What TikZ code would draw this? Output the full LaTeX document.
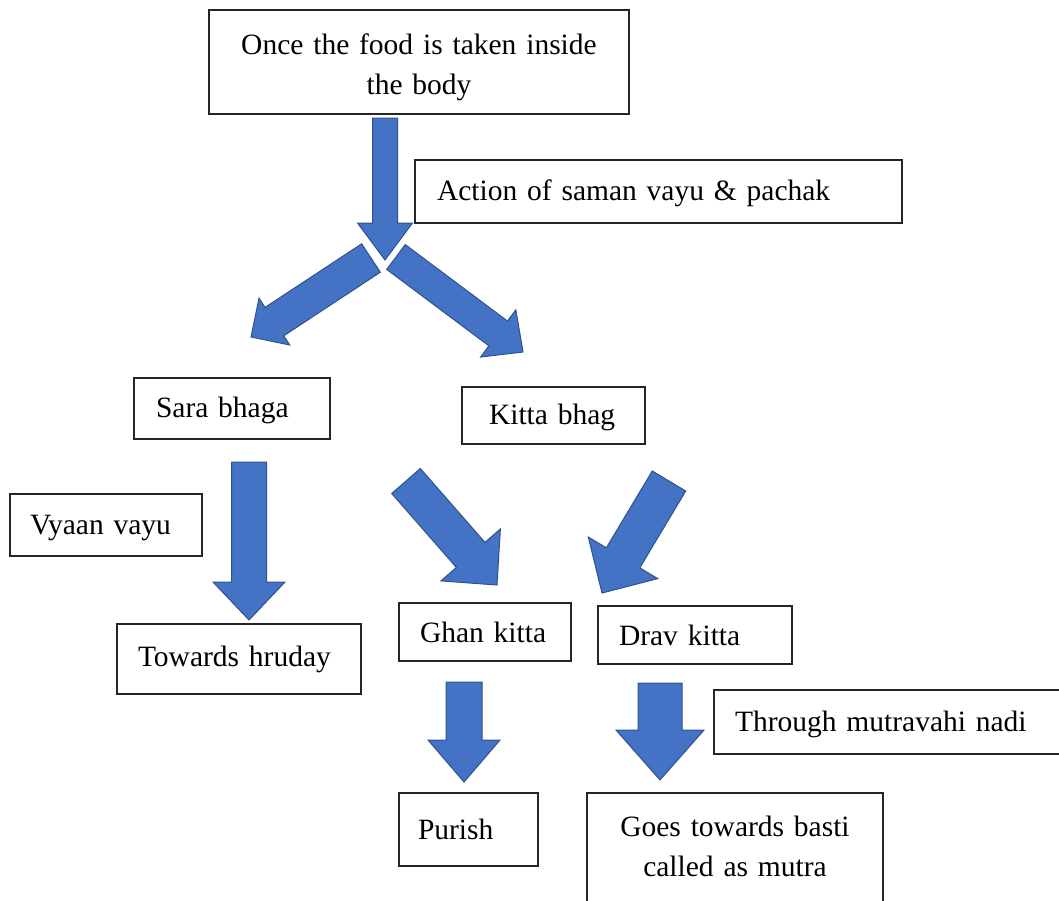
\documentclass[tikz,border=0pt]{standalone}
\usepackage{fontspec}
\setmainfont{Liberation Serif}
\usetikzlibrary{calc}
\definecolor{arrowfill}{HTML}{4472C4}
\definecolor{arrowline}{HTML}{2F528F}
\tikzset{
  box/.style={draw=black!85, line width=1.5pt, rectangle, anchor=north west,
    outer sep=0pt, inner ysep=0pt, font=\fontsize{29.5}{40}\selectfont},
  blockarr/.style={fill=arrowfill, draw=arrowline, line width=1pt, line join=miter}
}
%% block arrow: tail, tip, shaft width, head width, head length
\newcommand{\blockarrow}[5]{%
  \path let \p1=($(#2)-(#1)$) in
    \pgfextra{\pgfmathsetmacro\arrang{atan2(\y1,\x1)}%
      \pgfmathsetmacro\arrlen{veclen(\x1,\y1)}%
      \global\let\arrang\arrang \global\let\arrlen\arrlen};
  \filldraw[blockarr, shift={(#1)}, rotate=\arrang]
    (0pt,-#3/2) -- (\arrlen pt-#5,-#3/2) -- (\arrlen pt-#5,-#4/2)
    -- (\arrlen pt,0pt) -- (\arrlen pt-#5,#4/2) -- (\arrlen pt-#5,#3/2)
    -- (0pt,#3/2) -- cycle;
}

\begin{document}
\begin{tikzpicture}[x=1pt, y=-1pt]
  \useasboundingbox (0,0) rectangle (1059,900);

  %% boxes
  \node[box, text width=400pt, inner xsep=10pt, minimum height=104pt, align=center]
    (food) at (209,10) {\rule{0pt}{32pt}Once the food is taken inside\\the body};
  \node[box, text width=443pt, inner xsep=22pt, minimum height=63pt, align=left]
    (saman) at (415,160) {\rule{0pt}{25pt}Action of saman vayu \& pachak};

  \node[box, text width=152pt, inner xsep=22pt, minimum height=61pt, align=left]
    (sara) at (134,378) {\rule{0pt}{25pt}Sara bhaga};
  \node[box, text width=129pt, inner xsep=27pt, minimum height=57pt, align=left]
    (kitta) at (462,387) {\rule{0pt}{25pt}Kitta bhag};

  \node[box, text width=152pt, inner xsep=20pt, minimum height=62pt, align=left]
    (vyaan) at (10,494) {\rule{0pt}{25pt}Vyaan vayu};
  \node[box, text width=202pt, inner xsep=21pt, minimum height=70pt, align=left]
    (hruday) at (117,624) {Towards hruday};

  \node[box, text width=130pt, inner xsep=21pt, minimum height=58pt, align=left]
    (ghan) at (399,603) {Ghan kitta};
  \node[box, text width=152pt, inner xsep=21pt, minimum height=58pt, align=left]
    (drav) at (598,606) {Drav kitta};
  \node[box, text width=306pt, inner xsep=21pt, minimum height=64pt, align=left]
    (nadi) at (714,690) {\rule{0pt}{25pt}Through mutravahi nadi};

  \node[box, text width=101pt, inner xsep=19pt, minimum height=73pt, align=left]
    (purish) at (399,793) {Purish};
  %% runs off the bottom of the page
  \node[box, text width=276pt, inner xsep=10pt, minimum height=112pt, align=center]
    (basti) at (587,793) {Goes towards basti\\called as mutra\rule[-6pt]{0pt}{1pt}};

  %% arrow ends
  \coordinate (foodtail) at (385,118);   \coordinate (foodtip) at (385,260);
  \coordinate (saratail) at (371,258);   \coordinate (saratip) at (251,337);
  \coordinate (kittatail) at (396,257);  \coordinate (kittatip) at (523,352);
  \coordinate (hrudtail) at (249,462);   \coordinate (hrudtip) at (249,620);
  \coordinate (ghantail) at (406,481);   \coordinate (ghantip) at (497,585);
  \coordinate (dravtail) at (669,481);   \coordinate (dravtip) at (602,593);
  \coordinate (purtail) at (464,682);    \coordinate (purtip) at (464,782);
  \coordinate (bastail) at (660,683);    \coordinate (bastip) at (660,780);

  %% arrows
  \blockarrow{foodtail}{foodtip}{25pt}{55pt}{37pt}
  \blockarrow{saratail}{saratip}{34pt}{56pt}{28pt}
  \blockarrow{kittatail}{kittatip}{31pt}{59pt}{31pt}
  \blockarrow{hrudtail}{hrudtip}{35pt}{72pt}{38pt}
  \blockarrow{ghantail}{ghantip}{38pt}{79pt}{40pt}
  \blockarrow{dravtail}{dravtip}{39pt}{81pt}{41pt}
  \blockarrow{purtail}{purtip}{36pt}{72pt}{42pt}
  \blockarrow{bastail}{bastip}{44pt}{88pt}{50pt}

\end{tikzpicture}
\end{document}
